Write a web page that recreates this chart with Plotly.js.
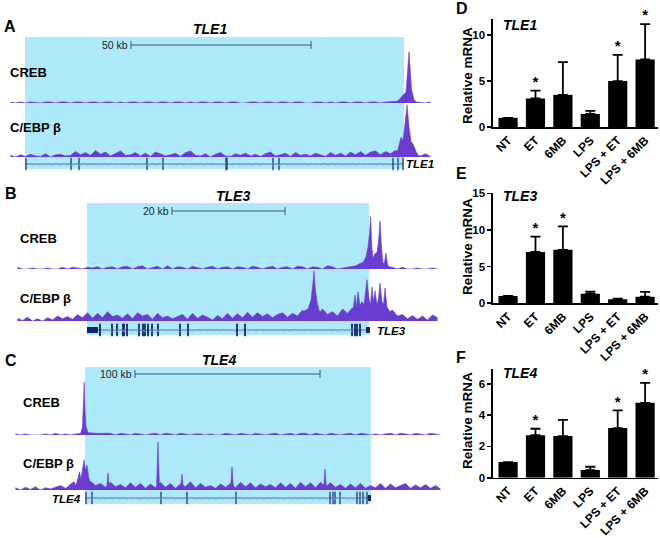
<!DOCTYPE html>
<html><head><meta charset="utf-8">
<script src="https://cdn.plot.ly/plotly-3.0.1.min.js"></script>
<style>html,body{margin:0;padding:0;background:#fff}</style>
</head><body><div id="chart" style="width:660px;height:538px"></div>
<script>
// ---------------- bar chart data (D, E, F) ----------------
const conditions = ['NT', 'ET', '6MB', 'LPS', 'LPS + ET', 'LPS + 6MB'];
const tle1Mean = [1.0, 3.1, 3.5, 1.42, 5.0, 7.35];
const tle1Err  = [0, 0.86, 3.55, 0.33, 2.85, 3.85];
const tle1Sig  = [false, true, false, false, true, true];
const tle3Mean = [1.0, 7.0, 7.3, 1.3, 0.55, 0.9];
const tle3Err  = [0, 2.1, 3.2, 0.3, 0.1, 0.65];
const tle3Sig  = [false, true, true, false, false, false];
const tle4Mean = [1.0, 2.72, 2.66, 0.49, 3.17, 4.79];
const tle4Err  = [0, 0.41, 1.04, 0.21, 1.13, 1.27];
const tle4Sig  = [false, true, false, false, true, true];

// ---------------- genome track data (bins; A,B: 85 bins, C: 86 bins) ----------------
const crebA_noise = [2,0,2,0,2,1,0,2,2,0, 2,2,0,2,2,0,2,2,0,2, 2,0,2,0,2,2,0,2,2,0, 2,2,0,2,2,0,2,0,2,2,
  0,2,2,0,2,2,0,0,2,2, 0,2,2,0,2,2,0,2,2,0, 0,2,2,0,2,0,2,2,0,2, 2,0,2,2,0,2,2,3,4,5, 3,2,0,0,2];
const crebA_peakX = [77.6, 78.4, 79.0, 79.6, 80.2, 80.7, 81.2, 81.8];
const crebA_peakY = [0, 8, 14, 20, 93, 25, 6, 0];
const cebpA_noise = [3,0,4,1,5,2,1,6,0,4, 5,2,3,10,4,8,3,12,5,9, 2,7,11,3,4,8,2,7,1,9, 6,2,4,7,1,8,11,3,2,6,
  0,5,8,2,1,6,3,7,2,5, 1,6,9,2,4,7,1,8,3,5, 2,7,4,1,8,3,7,2,9,4, 10,3,9,11,4,10,6,12,9,5, 10,4,2,6,1];
const cebpA_peakX = [77.4, 78.0, 78.6, 79.0, 79.4, 79.8, 80.2, 80.6, 81.0, 81.6, 82.2];
const cebpA_peakY = [0, 14, 36, 30, 60, 95, 55, 28, 24, 10, 0];

const crebB_noise = [3,0,0,2,0,0,2,0,0,3, 0,3,2,0,3,2,4,0,3,4, 0,4,5,0,4,6,0,3,5,0, 6,0,4,3,0,5,3,0,3,5,
  0,3,4,0,4,3,0,5,3,0, 3,5,0,3,4,0,5,4,0,4, 3,0,6,4,0,2,4,5,6,6, 5,5,5,5,5,3,0,3,0,0, 2,0,0,2,0];
const crebB_peakX = [67.4, 68.2, 69, 69.6, 70.2, 70.6, 70.9, 71.14, 71.36, 71.6, 72, 72.4, 72.7, 73, 73.3, 73.6, 73.9, 74.2, 74.5, 74.8];
const crebB_peakY = [0, 6, 10, 12, 22, 40, 65, 95, 40, 20, 28, 30, 50, 87, 40, 10, 12, 29, 8, 0];
const cebpB_noise = [5,1,7,0,4,0,6,2,9,4, 8,3,12,6,15,5,14,6,17,8, 11,5,13,4,15,9,12,3,14,6,
  9,4,8,12,3,14,5,11,7,2, 10,4,14,5,13,6,16,7,15,8, 13,6,12,15,7,14,9,20,8,16,
  10,22,12,17,9,22,14,24,12,25, 16,24,12,25,14,20,9,12,4,10, 3,9,2,11,6];
const cebpB_peakX = [56, 57, 57.8, 58.6, 59.2, 59.6, 59.8, 60.04, 60.4, 60.8, 61.4, 62,
  67, 67.6, 68, 68.3, 68.6, 69, 69.4, 69.8, 70.4, 70.8, 71.1, 71.4, 71.7, 72, 72.4, 72.7, 73, 73.4, 73.7, 74, 74.4, 74.8, 75.2, 75.6];
const cebpB_peakY = [0, 10, 18, 22, 38, 70, 91, 60, 35, 20, 12, 0,
  0, 22, 47, 25, 53, 28, 35, 30, 75, 40, 30, 62, 35, 55, 30, 40, 69, 35, 30, 60, 25, 20, 10, 0];

const crebC_noise = [2,0,2,0,0,0,2,0,3,0, 2,0,2,3,3,4,3,3,2,3, 0,3,2,0,3,2,0,2,3,0, 3,2,0,3,2,0,2,2,0,2,
  0,0,3,2,0,3,2,0,3,2, 0,2,3,0,2,3,0,3,3,0, 3,2,0,3,2,0,2,3,0,3, 2,0,2,0,2,3,0,3,2,0, 3,2,0,3,2,0];
const crebC_peakX = [13.2, 13.6, 13.9, 14.1, 14.24, 14.4, 14.6, 14.9, 15.2];
const crebC_peakY = [0, 5, 15, 60, 96, 45, 15, 8, 0];
const cebpC_noise = [4,0,5,1,6,0,4,2,5,8, 3,9,6,14,10,16,8,12,5,14, 6,10,4,13,5,12,3,11,4,14,
  5,12,3,11,6,15,4,12,5,8, 3,11,5,12,4,14,6,13,4,11, 6,10,4,13,5,12,3,14,6,13,
  4,14,6,13,5,10,3,11,4,12, 3,8,4,12,3,11,4,8,12,3, 9,4,10,3,8,2];
const cebpC_peakX = [10.6, 11.4, 12.2, 12.6, 13, 13.3, 13.6, 13.9, 14.2, 14.5, 14.8, 15.1, 15.4, 15.8,
  18.7, 19, 19.3, 28.7, 29, 29.3, 33.5, 33.8, 34.1, 43.5, 43.8, 44.1, 62.1, 62.4, 62.7];
const cebpC_peakY = [0, 10, 15, 8, 22, 33, 20, 40, 55, 35, 45, 25, 12, 0,
  0, 31, 0, 0, 87, 0, 0, 29, 0, 0, 42, 0, 0, 38, 0];

// gene models (bin units)
const geneA_span = [3.4, 79.0];
const geneA_exons = [3.6, 12.6, 14.2, 27.8, 31, 43.6, 43.8, 53, 54.2, 77, 78, 79];
const geneB_span = [14.4, 70.8];
const geneB_utr5 = [14.4, 16.6];
const geneB_utr3 = [70.2, 71.0];
const geneB_exons = [17, 19.4, 20.4, 21.6, 21.8, 22.4, 24.8, 25.6, 26, 26.6, 27.4, 28.6, 33, 34.6, 44.4, 46, 67.4, 68, 68.4, 69];
const geneC_span = [14.4, 71.2];
const geneC_utr3 = [71.0, 71.6];
const geneC_exons = [14.6, 15.8, 29.6, 34.8, 44.6, 63.4, 64, 64.4, 65.4, 68.8, 69.4, 70, 70.8];

// highlighted regions and scale bars (bin units)
const regionA = [3.4, 79.2], regionB = [14.4, 70.8], regionC = [14.4, 71.6];
const scaleA = [24.6, 60.6], scaleB = [31.4, 54.0], scaleC = [24.4, 61.4];

// ---------------- styling ----------------
const FONT = 'Liberation Sans, Arial, sans-serif';
const W = 660, H = 538;
const fx = p => p / W;
const fy = p => 1 - p / H;
const PURPLE = '#6a3dd0';
const CYAN = '#aeeafb';
const NAVY = '#14246b';
const GENELINE = '#4d6f99';

const data = [];
const layout = {
  width: W, height: H, margin: {l: 0, r: 0, t: 0, b: 0},
  showlegend: false, paper_bgcolor: '#ffffff', plot_bgcolor: 'rgba(0,0,0,0)',
  bargap: 0.3, shapes: [], annotations: [], font: {family: FONT}
};
const hidden = (extra) => Object.assign({visible: false, fixedrange: true, showgrid: false, zeroline: false}, extra);

function signal(noise, pkX, pkY, xa, ya) {
  data.push({type: 'scatter', mode: 'lines', x: noise.map((v, i) => i + 0.5), y: noise,
    xaxis: xa, yaxis: ya, fill: 'tozeroy', fillcolor: PURPLE, line: {color: PURPLE, width: 0.6}, hoverinfo: 'skip'});
  data.push({type: 'scatter', mode: 'lines', x: pkX, y: pkY,
    xaxis: xa, yaxis: ya, fill: 'tozeroy', fillcolor: PURPLE, line: {color: PURPLE, width: 0.6}, hoverinfo: 'skip'});
}
function gene(span, exons, boxes, w, xa, ya) {
  data.push({type: 'scatter', mode: 'lines', x: span, y: [0, 0], xaxis: xa, yaxis: ya,
    line: {color: GENELINE, width: 1}, hoverinfo: 'skip'});
  data.push({type: 'scatter', mode: 'markers', x: exons, y: exons.map(() => 0), xaxis: xa, yaxis: ya, cliponaxis: false,
    marker: {symbol: 'line-ns', size: 9, line: {color: NAVY, width: w}}, hoverinfo: 'skip'});
  boxes.forEach(b => data.push({type: 'scatter', mode: 'lines', x: b, y: [0, 0], xaxis: xa, yaxis: ya, cliponaxis: false,
    line: {color: NAVY, width: 6}, hoverinfo: 'skip'}));
}
function ann(text, xpx, ypx, opts) {
  layout.annotations.push(Object.assign({text: text, xref: 'paper', yref: 'paper', x: fx(xpx), y: fy(ypx),
    showarrow: false, xanchor: 'left', yanchor: 'middle',
    font: {family: FONT, size: 13, color: '#000', weight: 'bold'}}, opts || {}));
}

// ---------------- genome panels ----------------
const panels = [
  {xa: 'x', xn: 'xaxis', ys: ['y', 'y2', 'y3'], yn: ['yaxis', 'yaxis2', 'yaxis3'], xDom: [8, 433], nb: 85,
   creb: [103, 48], cebp: [157, 102], geneY: 164, cyanY: [37, 169], region: regionA, scale: scaleA, scaleY: 45,
   crebN: crebA_noise, crebPX: crebA_peakX, crebPY: crebA_peakY, cebpN: cebpA_noise, cebpPX: cebpA_peakX, cebpPY: cebpA_peakY},
  {xa: 'x2', xn: 'xaxis2', ys: ['y4', 'y5', 'y6'], yn: ['yaxis4', 'yaxis5', 'yaxis6'], xDom: [15, 440], nb: 85,
   creb: [269, 214], cebp: [321, 266], geneY: 330, cyanY: [203, 335], region: regionB, scale: scaleB, scaleY: 211,
   crebN: crebB_noise, crebPX: crebB_peakX, crebPY: crebB_peakY, cebpN: cebpB_noise, cebpPX: cebpB_peakX, cebpPY: cebpB_peakY},
  {xa: 'x3', xn: 'xaxis3', ys: ['y7', 'y8', 'y9'], yn: ['yaxis7', 'yaxis8', 'yaxis9'], xDom: [13, 443], nb: 86,
   creb: [435, 380], cebp: [490, 435], geneY: 498, cyanY: [367, 504], region: regionC, scale: scaleC, scaleY: 374,
   crebN: crebC_noise, crebPX: crebC_peakX, crebPY: crebC_peakY, cebpN: cebpC_noise, cebpPX: cebpC_peakX, cebpPY: cebpC_peakY}
];
panels.forEach(p => {
  layout[p.xn] = hidden({domain: [fx(p.xDom[0]), fx(p.xDom[1])], range: [0, p.nb], anchor: p.ys[0]});
  layout[p.yn[0]] = hidden({domain: [fy(p.creb[0]), fy(p.creb[1])], range: [0, 100], anchor: p.xa});
  layout[p.yn[1]] = hidden({domain: [fy(p.cebp[0]), fy(p.cebp[1])], range: [0, 100], anchor: p.xa});
  layout[p.yn[2]] = hidden({domain: [fy(p.geneY + 6), fy(p.geneY - 6)], range: [-1, 1], anchor: p.xa});
  layout.shapes.push({type: 'rect', xref: p.xa, yref: 'paper', x0: p.region[0], x1: p.region[1],
    y0: fy(p.cyanY[1]), y1: fy(p.cyanY[0]), fillcolor: CYAN, line: {width: 0}, layer: 'below'});
  const sc = '#3e5866';
  layout.shapes.push({type: 'line', xref: p.xa, yref: 'paper', x0: p.scale[0], x1: p.scale[1], y0: fy(p.scaleY), y1: fy(p.scaleY), line: {color: sc, width: 1}});
  p.scale.forEach(s => layout.shapes.push({type: 'line', xref: p.xa, yref: 'paper', x0: s, x1: s, y0: fy(p.scaleY - 4), y1: fy(p.scaleY + 4), line: {color: sc, width: 1}}));
  signal(p.crebN, p.crebPX, p.crebPY, p.xa, p.ys[0]);
  signal(p.cebpN, p.cebpPX, p.cebpPY, p.xa, p.ys[1]);
});
gene(geneA_span, geneA_exons, [], 1.2, 'x', 'y3');
gene(geneB_span, geneB_exons, [geneB_utr5, geneB_utr3], 1.8, 'x2', 'y6');
gene(geneC_span, geneC_exons, [geneC_utr3], 1.2, 'x3', 'y9');

// intron direction chevrons
const chev = {family: FONT, size: 8, color: '#9dbbe0'};
layout.annotations.push({text: '< '.repeat(53) + '<', xref: 'x', yref: 'paper', x: (geneA_span[0] + geneA_span[1]) / 2, y: fy(164), showarrow: false, xanchor: 'center', yanchor: 'middle', font: chev});
layout.annotations.push({text: '< '.repeat(36) + '<', xref: 'x2', yref: 'paper', x: 42.5, y: fy(330), showarrow: false, xanchor: 'center', yanchor: 'middle', font: chev});
layout.annotations.push({text: '> '.repeat(39) + '>', xref: 'x3', yref: 'paper', x: 42.8, y: fy(498), showarrow: false, xanchor: 'center', yanchor: 'middle', font: chev});

// genome panel labels
const italicB = {family: FONT, size: 14, color: '#000', weight: 'bold', style: 'italic'};
const geneLab = {family: FONT, size: 11.5, color: '#000', weight: 'bold', style: 'italic'};
const scaleFont = {family: FONT, size: 10.5, color: '#222'};
const letterFont = {family: FONT, size: 16, color: '#000', weight: 'bold'};
ann('A', 2, 27, {font: letterFont});
ann('<i>TLE1</i>', 210, 29, {xanchor: 'center', font: italicB});
ann('50 kb', 130, 45, {xanchor: 'right', font: scaleFont});
ann('CREB', 8, 72);
ann('C/EBP β', 8, 127);
ann('<i>TLE1</i>', 404, 164, {font: geneLab});
ann('B', 3, 194, {font: letterFont});
ann('<i>TLE3</i>', 233, 196, {xanchor: 'center', font: italicB});
ann('20 kb', 171, 211, {xanchor: 'right', font: scaleFont});
ann('CREB', 18, 239);
ann('C/EBP β', 18, 298);
ann('<i>TLE3</i>', 375, 331, {font: geneLab});
ann('C', 3, 360, {font: letterFont});
ann('<i>TLE4</i>', 219, 360, {xanchor: 'center', font: italicB});
ann('100 kb', 134, 374, {xanchor: 'right', font: scaleFont});
ann('CREB', 21, 402);
ann('C/EBP β', 21, 463);
ann('<i>TLE4</i>', 83, 499, {xanchor: 'right', font: geneLab});

// ---------------- bar charts ----------------
const bars = [
  {xa: 'x4', xn: 'xaxis4', ya: 'y10', yn: 'yaxis10', mean: tle1Mean, err: tle1Err, sig: tle1Sig,
   y0: 127, y1: 19, range: [0, 11.75], ticks: [0, 5, 10], gene: 'TLE1', geneY: 25, letter: 'D', letterY: 8, titleY: 75},
  {xa: 'x5', xn: 'xaxis5', ya: 'y11', yn: 'yaxis11', mean: tle3Mean, err: tle3Err, sig: tle3Sig,
   y0: 303.3, y1: 193, range: [0, 15.05], ticks: [0, 5, 10, 15], gene: 'TLE3', geneY: 196, letter: 'E', letterY: 173, titleY: 246},
  {xa: 'x6', xn: 'xaxis6', ya: 'y12', yn: 'yaxis12', mean: tle4Mean, err: tle4Err, sig: tle4Sig,
   y0: 477.7, y1: 369, range: [0, 6.95], ticks: [0, 2, 4, 6], gene: 'TLE4', geneY: 373, letter: 'F', letterY: 357, titleY: 420}
];
const tickF = {family: FONT, size: 12, color: '#000', weight: 'bold'};
bars.forEach(b => {
  layout[b.xn] = {domain: [fx(493), fx(658)], range: [-0.55, 5.47], anchor: b.ya, type: 'category',
    showline: true, linecolor: '#000', linewidth: 1.6, ticks: '', tickangle: -45, tickfont: tickF,
    showgrid: false, zeroline: false, fixedrange: true};
  layout[b.yn] = {domain: [fy(b.y0), fy(b.y1)], range: b.range, anchor: b.xa,
    showline: true, linecolor: '#000', linewidth: 1.6, ticks: 'outside', ticklen: 4, tickwidth: 1.6, tickcolor: '#000',
    tickvals: b.ticks, tickfont: {family: FONT, size: 11.5, color: '#000', weight: 'bold'},
    showgrid: false, zeroline: false, fixedrange: true};
  data.push({type: 'bar', x: conditions, y: b.mean, xaxis: b.xa, yaxis: b.ya,
    marker: {color: '#000', line: {width: 0}},
    error_y: {type: 'data', symmetric: false, array: b.err, arrayminus: b.err.map(() => 0), color: '#000', thickness: 1.8, width: 5},
    hoverinfo: 'skip'});
  const sx = conditions.filter((c, i) => b.sig[i]);
  const sy = b.mean.map((m, i) => m + b.err[i]).filter((v, i) => b.sig[i]);
  data.push({type: 'scatter', mode: 'text', x: sx, y: sy, text: sx.map(() => '*'), textposition: 'top center',
    textfont: {family: FONT, size: 15, color: '#000', weight: 'bold'}, cliponaxis: false,
    xaxis: b.xa, yaxis: b.ya, hoverinfo: 'skip'});
  ann(b.letter, 454, b.letterY, {font: letterFont});
  ann('<i>' + b.gene + '</i>', 501, b.geneY, {font: italicB});
  ann('Relative mRNA', 467, b.titleY, {xanchor: 'center', textangle: -90, font: {family: FONT, size: 13.5, color: '#000', weight: 'bold'}});
});

Plotly.newPlot('chart', data, layout, {staticPlot: true, displayModeBar: false});
</script>
</body></html>
